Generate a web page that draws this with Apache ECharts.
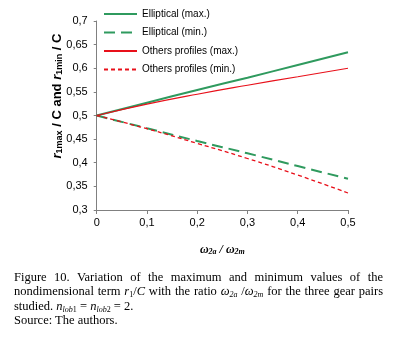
<!DOCTYPE html>
<html>
<head>
<meta charset="utf-8">
<script src="https://cdn.jsdelivr.net/npm/echarts@6/dist/echarts.min.js"></script>
<style>
  html, body { margin: 0; padding: 0; background: #fff; }
  #wrap { position: relative; width: 394px; height: 341px; }
  #chart { position: absolute; left: 0; top: 0; width: 394px; height: 341px; }
  #caption {
    position: absolute; left: 14px; top: 270px; width: 369px;
    font-family: 'Liberation Serif', 'Times New Roman', serif;
    font-size: 12.5px; line-height: 14.3px; color: #000;
    text-align: justify;
  }
  #caption i { font-style: italic; }
  #caption sub { font-size: 8px; line-height: 0; vertical-align: -2px; }
</style>
</head>
<body>
<div id="wrap">
  <div id="chart"></div>
  <div id="caption">Figure 10. Variation of the maximum and minimum values of the nondimensional term <i>r</i><sub>1</sub>/<i>C</i> with the ratio <i>ω</i><sub><i>2a</i></sub> /<i>ω</i><sub><i>2m</i></sub> for the three gear pairs studied. <i>n</i><sub><i>lob</i>1</sub> = <i>n</i><sub><i>lob</i>2</sub> = 2.<br>Source: The authors.</div>
</div>
<script>
const ratio = [0, 0.1, 0.2, 0.3, 0.4, 0.5];
const ellipticalMax = [0.5, 0.527, 0.554, 0.580, 0.607, 0.634];
const ellipticalMin = [0.5, 0.473, 0.446, 0.420, 0.393, 0.366];
const othersMax = [0.5, 0.524, 0.545, 0.564, 0.582, 0.600];
const othersMin = [0.5, 0.472, 0.441, 0.409, 0.374, 0.336];

const green = '#2f9a5e';
const red = '#e8101a';

const pairs = (ys) => ratio.map((x, i) => [x, ys[i]]);
const comma = (v) => String(+v.toFixed(2)).replace('.', ',');

const chart = echarts.init(document.getElementById('chart'));

const option = {
    animation: false,
    grid: { left: 96.7, right: 46, top: 21, bottom: 131 },
    legend: {
        orient: 'vertical',
        left: 103,
        top: 8,
        padding: 0,
        itemWidth: 33,
        itemHeight: 12,
        itemGap: 6.5,
        itemStyle: { color: 'transparent', borderWidth: 0 },
        textStyle: { fontFamily: 'Liberation Sans, Arial', fontSize: 10, color: '#000', lineHeight: 12 },
        data: ['Elliptical (max.)', 'Elliptical (min.)', 'Others profiles (max.)', 'Others profiles (min.)']
    },
    xAxis: {
        type: 'value',
        min: 0,
        max: 0.5,
        interval: 0.1,
        splitLine: { show: false },
        axisLine: { lineStyle: { color: '#808080', width: 1 } },
        axisTick: { length: 4, lineStyle: { color: '#808080' } },
        axisLabel: {
            margin: 7, color: '#000', fontFamily: 'Liberation Sans, Arial', fontSize: 11,
            formatter: comma
        },
        name: '{i|ω}{s|2a}{i| / ω}{s|2m}',
        nameLocation: 'middle',
        nameGap: 32,
        nameTextStyle: {
            rich: {
                i: { fontFamily: 'Liberation Serif', fontStyle: 'italic', fontWeight: 'bold', fontSize: 12, lineHeight: 14, verticalAlign: 'bottom', color: '#000' },
                s: { fontFamily: 'Liberation Serif', fontStyle: 'italic', fontWeight: 'bold', fontSize: 8, lineHeight: 10, verticalAlign: 'bottom', color: '#000' }
            }
        }
    },
    yAxis: {
        type: 'value',
        min: 0.3,
        max: 0.7,
        interval: 0.05,
        splitLine: { show: false },
        axisLine: { show: true, lineStyle: { color: '#808080', width: 1 } },
        axisTick: { show: true, length: 3, lineStyle: { color: '#808080' } },
        axisLabel: {
            margin: 9, color: '#000', fontFamily: 'Liberation Sans, Arial', fontSize: 11,
            formatter: comma
        }
    },
    graphic: [{
        type: 'text',
        x: 56,
        y: 96,
        rotation: Math.PI / 2,
        style: {
            text: '{i|r}{s|1max}{n| / C and }{i|r}{s|1min}{n| / C}',
            align: 'center',
            verticalAlign: 'middle',
            rich: {
                i: { fontFamily: 'Liberation Sans', fontStyle: 'italic', fontWeight: 'bold', fontSize: 13, lineHeight: 16, verticalAlign: 'bottom', fill: '#000' },
                n: { fontFamily: 'Liberation Sans', fontWeight: 'bold', fontSize: 13, lineHeight: 16, verticalAlign: 'bottom', fill: '#000' },
                s: { fontFamily: 'Liberation Sans', fontWeight: 'bold', fontSize: 9, lineHeight: 10, verticalAlign: 'bottom', fill: '#000' }
            }
        }
    }],
    series: [
        {
            name: 'Elliptical (max.)', type: 'line', symbol: 'none', smooth: true,
            lineStyle: { color: green, width: 2 }, itemStyle: { color: green },
            data: pairs(ellipticalMax)
        },
        {
            name: 'Elliptical (min.)', type: 'line', symbol: 'none', smooth: true,
            lineStyle: { color: green, width: 2, type: [11, 6] }, itemStyle: { color: green },
            data: pairs(ellipticalMin)
        },
        {
            name: 'Others profiles (max.)', type: 'line', symbol: 'none', smooth: true,
            lineStyle: { color: red, width: 1.2 }, itemStyle: { color: red },
            data: pairs(othersMax)
        },
        {
            name: 'Others profiles (min.)', type: 'line', symbol: 'none', smooth: true,
            lineStyle: { color: red, width: 1.3, type: [4, 3] }, itemStyle: { color: red },
            data: pairs(othersMin)
        }
    ]
};
chart.setOption(option);
</script>
</body>
</html>
